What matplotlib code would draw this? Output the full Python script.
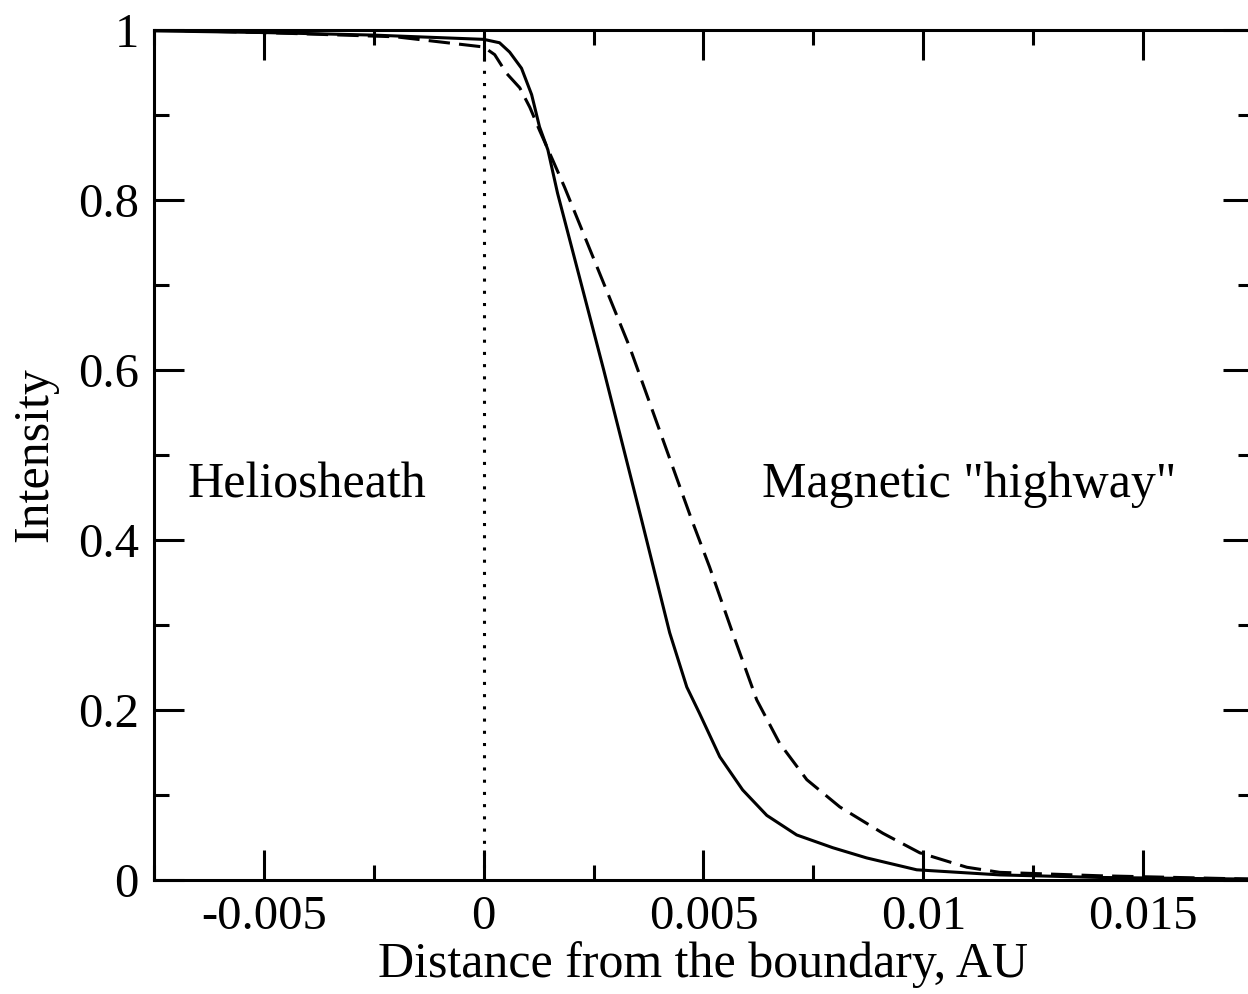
import matplotlib
matplotlib.use("Agg")
import matplotlib.pyplot as plt
from matplotlib.ticker import MultipleLocator, FixedLocator, FixedFormatter

plt.rcParams['font.family'] = ['Liberation Serif', 'DejaVu Serif']

# === data ===
solid_x = [-0.0075, -0.005, -0.0025, 0.0, 0.00036, 0.00059, 0.00086, 0.00109,
           0.00127, 0.00146, 0.00168, 0.00273, 0.00359, 0.00423, 0.00462,
           0.00491, 0.00537, 0.00589, 0.00644, 0.00712, 0.00794, 0.00871,
           0.00985, 0.01174, 0.0140, 0.0175]
solid_y = [0.999, 0.997, 0.994, 0.989, 0.985, 0.974, 0.955, 0.924,
           0.886, 0.859, 0.808, 0.600, 0.424, 0.291, 0.227,
           0.196, 0.145, 0.106, 0.076, 0.053, 0.038, 0.026,
           0.012, 0.006, 0.003, 0.001]

dashed_x = [-0.0075, -0.005, -0.002, 0.0, 0.00025, 0.00052, 0.00082, 0.00105,
            0.00127, 0.00157, 0.00184, 0.00332, 0.00473, 0.00514, 0.00566,
            0.00621, 0.00673, 0.00735, 0.0081, 0.00908, 0.00992, 0.01099,
            0.01174, 0.0140, 0.0175]
dashed_y = [1.0, 0.997, 0.992, 0.980, 0.971, 0.949, 0.932, 0.909,
            0.882, 0.847, 0.815, 0.627, 0.424, 0.368, 0.291,
            0.212, 0.161, 0.118, 0.086, 0.055, 0.032, 0.015,
            0.009, 0.005, 0.001]

x_ticks = [-0.005, 0.0, 0.005, 0.01, 0.015]
x_tick_labels = ['-0.005', '0', '0.005', '0.01', '0.015']
y_ticks = [0, 0.2, 0.4, 0.6, 0.8, 1.0]
y_tick_labels = ['0', '0.2', '0.4', '0.6', '0.8', '1']

W, H = 1248, 994
fig = plt.figure(figsize=(W / 100, H / 100), dpi=100)
ax = fig.add_axes([154 / W, (H - 880) / H, (1253 - 154) / W, (880 - 30) / H])

lw = 2.2
ax.plot(solid_x, solid_y, color='black', lw=lw)
ax.plot(dashed_x, dashed_y, color='black', lw=lw, linestyle=(0, (7, 3)))
ax.plot([0, 0], [0, 1], color='black', lw=lw, linestyle=(0, (1, 3)),
        dash_capstyle='butt')

ax.set_xlim(-0.0075, 0.0175)
ax.set_ylim(0, 1)

ax.xaxis.set_major_locator(FixedLocator(x_ticks))
ax.xaxis.set_major_formatter(FixedFormatter(x_tick_labels))
ax.xaxis.set_minor_locator(MultipleLocator(0.0025))
ax.yaxis.set_major_locator(FixedLocator(y_ticks))
ax.yaxis.set_major_formatter(FixedFormatter(y_tick_labels))
ax.yaxis.set_minor_locator(MultipleLocator(0.1))

ax.tick_params(which='both', direction='in', top=True, right=True,
               width=lw, labelsize=35, pad=11)
ax.tick_params(which='major', length=21.6)
ax.tick_params(which='minor', length=10.8)
for s in ax.spines.values():
    s.set_linewidth(lw)

ax.set_xlabel('Distance from the boundary, AU', fontsize=36, labelpad=1)
ax.set_ylabel('Intensity', fontsize=36, labelpad=14)

ax.text(-0.00673, 0.45, 'Heliosheath', fontsize=36, va='baseline', ha='left')
ax.text(0.00632, 0.45, 'Magnetic "highway"', fontsize=36, va='baseline', ha='left')

fig.savefig('out.png', dpi=100)
